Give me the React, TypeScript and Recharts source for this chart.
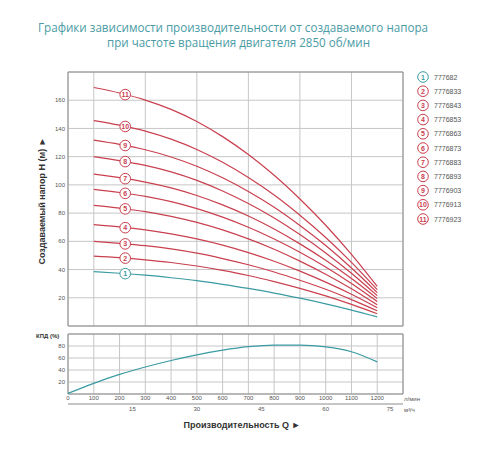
import React from 'react'
import {
  LineChart,
  Line,
  XAxis,
  YAxis,
  CartesianGrid,
  ReferenceArea,
  ReferenceDot,
} from 'recharts'

// flow, l/min
const flowLpm = [100, 200, 300, 400, 500, 600, 700, 800, 900, 1000, 1100, 1200]

// head H (m) for each pump
const head1 = [38.5, 37.4, 36.0, 34.2, 32.1, 29.5, 26.6, 23.3, 19.7, 15.7, 11.3, 6.5]
const head2 = [49.5, 48.4, 46.9, 45.0, 42.5, 39.4, 35.8, 31.5, 26.7, 21.3, 15.3, 8.7]
const head3 = [60, 58.6, 56.9, 54.6, 51.6, 47.8, 43.4, 38.3, 32.4, 26, 18.7, 10.8]
const head4 = [71.8, 70.2, 68.1, 65.3, 61.7, 57.3, 52, 45.9, 38.9, 31.1, 22.5, 13]
const head5 = [85.5, 83.5, 81.1, 77.7, 73.4, 68.1, 61.7, 54.4, 46, 36.7, 26.4, 15]
const head6 = [96.8, 94.6, 91.8, 88.1, 83.2, 77.2, 70, 61.7, 52.3, 41.8, 30.1, 17.3]
const head7 = [107.6, 105.1, 102, 97.9, 92.5, 85.8, 77.9, 68.7, 58.2, 46.6, 33.6, 19.4]
const head8 = [120, 117.2, 113.8, 109.2, 103.2, 95.7, 86.8, 76.6, 64.8, 51.8, 37.4, 21.5]
const head9 = [131.7, 128.7, 124.9, 119.8, 113.2, 105, 95.3, 84.1, 71.2, 57, 41.1, 23.7]
const head10 = [145.6, 142.3, 138.1, 132.4, 125.1, 116, 105.2, 92.8, 78.5, 62.7, 45.1, 25.8]
const head11 = [169, 165.1, 160.1, 153.5, 144.9, 134.2, 121.5, 106.8, 90, 71.4, 50.7, 28]

const heads = [head1, head2, head3, head4, head5, head6, head7, head8, head9, head10, head11]

const models = [
  '777682', '7776833', '7776843', '7776853', '7776863', '7776873',
  '7776883', '7776893', '7776903', '7776913', '7776923',
]

// where the circled numbers sit on each curve
const markerFlow = 222
const markerHead = [37.1, 48.1, 58.2, 69.7, 83.0, 94.0, 104.4, 116.5, 127.9, 141.4, 164.0]

// efficiency
const effFlow = [0, 100, 200, 300, 400, 500, 600, 700, 800, 900, 1000, 1100, 1200]
const effValue = [1, 17.8, 32.6, 45, 55.8, 65.2, 73, 78.8, 81.6, 81.6, 78.4, 70.4, 53.5]

const gridFlow = [0, 100, 200, 300, 400, 500, 600, 700, 800, 900, 1000, 1100, 1200, 1300]
const flowLabels = [0, 100, 200, 300, 400, 500, 600, 700, 800, 900, 1000, 1100, 1200]
const headTicks = [20, 40, 60, 80, 100, 120, 140, 160]
const effTicks = [20, 40, 60, 80]
// m³/h marks, placed on the l/min scale (15 m³/h = 250 l/min)
const m3TickFlow = [250, 500, 750, 1000, 1250]
const m3TickLabel = ['15', '30', '45', '60', '75']

const RED = '#c9404f'
const TEAL = '#3a9ba3'
const GRID = '#c6c6c6'
const FRAME = '#8c8c8c'

const headRows = flowLpm.map((q, i) => {
  const row: Record<string, number> = { q }
  heads.forEach((h, k) => {
    row['h' + (k + 1)] = h[i]
  })
  return row
})

const effRows = effFlow.map((q, i) => ({ q, eff: effValue[i] }))

const colorOf = (k: number) => (k === 0 ? TEAL : RED)

const circleShape = (n: number, color: string) => (props: any) => (
  <g>
    <circle cx={props.cx} cy={props.cy} r={5.3} fill="#fff" stroke={color} strokeWidth={1} />
    <text
      x={props.cx}
      y={props.cy + 2.5}
      textAnchor="middle"
      fontSize={7}
      fontWeight="bold"
      fontFamily="Liberation Sans, Arial, sans-serif"
      fill={color}
    >
      {n}
    </text>
  </g>
)

const tickStyle = { fontSize: 6, fill: '#555', fontFamily: 'Liberation Sans, Arial, sans-serif' }

function HeadChart() {
  return (
    <LineChart width={500} height={330} data={headRows} margin={{ top: 72, right: 97, bottom: 4, left: 0 }}>
      <CartesianGrid stroke={GRID} strokeWidth={1} />
      <XAxis type="number" dataKey="q" domain={[0, 1300]} ticks={gridFlow} hide />
      <YAxis
        type="number"
        domain={[0, 180]}
        ticks={headTicks}
        interval={0}
        width={68}
        tick={tickStyle}
        axisLine={false}
        tickLine={false}
        tickSize={0}
        tickMargin={3}
      />
      <ReferenceArea x1={0} x2={1300} y1={0} y2={180} fill="none" stroke={FRAME} strokeWidth={1} fillOpacity={0} />
      {heads.map((_, k) => (
        <Line
          key={k}
          type="monotone"
          dataKey={'h' + (k + 1)}
          stroke={colorOf(k)}
          strokeWidth={1.2}
          dot={false}
          isAnimationActive={false}
        />
      ))}
      {markerHead.map((h, k) => (
        <ReferenceDot
          key={'m' + k}
          x={markerFlow}
          y={h}
          r={5}
          shape={circleShape(k + 1, colorOf(k))}
        />
      ))}
    </LineChart>
  )
}

function EffChart() {
  return (
    <LineChart width={500} height={120} data={effRows} margin={{ top: 4, right: 97, bottom: 32, left: 0 }}>
      <CartesianGrid stroke={GRID} strokeWidth={1} />
      <XAxis
        type="number"
        dataKey="q"
        domain={[0, 1300]}
        ticks={flowLabels}
        interval={0}
        height={10}
        tick={tickStyle}
        axisLine={false}
        tickLine={false}
        tickSize={0}
        tickMargin={2}
      />
      <XAxis
        xAxisId="m3"
        type="number"
        dataKey="q"
        domain={[0, 1300]}
        allowDataOverflow
        ticks={m3TickFlow}
        tickFormatter={(v: number) => m3TickLabel[m3TickFlow.indexOf(v)] ?? ''}
        interval={0}
        height={14}
        tick={tickStyle}
        axisLine={{ stroke: FRAME }}
        tickLine={false}
        tickSize={0}
        tickMargin={3}
      />
      <YAxis
        type="number"
        domain={[0, 100]}
        ticks={effTicks}
        interval={0}
        width={68}
        tick={tickStyle}
        axisLine={false}
        tickLine={false}
        tickSize={0}
        tickMargin={3}
      />
      <ReferenceArea x1={0} x2={1300} y1={0} y2={100} fill="none" stroke={FRAME} strokeWidth={1} fillOpacity={0} />
      <Line type="monotone" dataKey="eff" stroke={TEAL} strokeWidth={1.2} dot={false} isAnimationActive={false} />
    </LineChart>
  )
}

function Texts() {
  const sans = 'Liberation Sans, Arial, sans-serif'
  return (
    <svg width={500} height={450} style={{ position: 'absolute', left: 0, top: 0, pointerEvents: 'none' }}>
      <g fill="#4a9ba5" fontFamily="Open Sans, sans-serif" fontSize={12}>
        <text x={38} y={32} textLength={390} lengthAdjust="spacingAndGlyphs">
          Графики зависимости производительности от создаваемого напора
        </text>
        <text x={107} y={47} textLength={263} lengthAdjust="spacingAndGlyphs">
          при частоте вращения двигателя 2850 об/мин
        </text>
      </g>
      <text
        transform="translate(45,201) rotate(-90)"
        textAnchor="middle"
        fontFamily={sans}
        fontWeight="bold"
        fontSize={9}
        fill="#333"
      >
        Создаваемый напор H (м) ►
      </text>
      <text x={242} y={428} textAnchor="middle" fontFamily={sans} fontWeight="bold" fontSize={9} fill="#333">
        Производительность Q ►
      </text>
      <text x={36} y={338} fontFamily={sans} fontWeight="bold" fontSize={6} fill="#333">
        КПД (%)
      </text>
      <text x={404} y={401} fontFamily={sans} fontSize={6} fill="#555">
        л/мин
      </text>
      <text x={404} y={412} fontFamily={sans} fontSize={6} fill="#555">
        м³/ч
      </text>
      {models.map((m, k) => {
        const y = 77 + k * 14.2
        return (
          <g key={m}>
            {circleShape(k + 1, colorOf(k))({ cx: 423, cy: y })}
            <text x={434} y={y + 2.5} fontFamily={sans} fontSize={7} fill="#555">
              {m}
            </text>
          </g>
        )
      })}
    </svg>
  )
}

export default function App() {
  return (
    <div style={{ position: 'absolute', left: 0, top: 0, width: 500, height: 450, background: '#fff' }}>
      <div style={{ position: 'absolute', left: 0, top: 0 }}>
        <HeadChart />
      </div>
      <div style={{ position: 'absolute', left: 0, top: 330 }}>
        <EffChart />
      </div>
      <Texts />
    </div>
  )
}
